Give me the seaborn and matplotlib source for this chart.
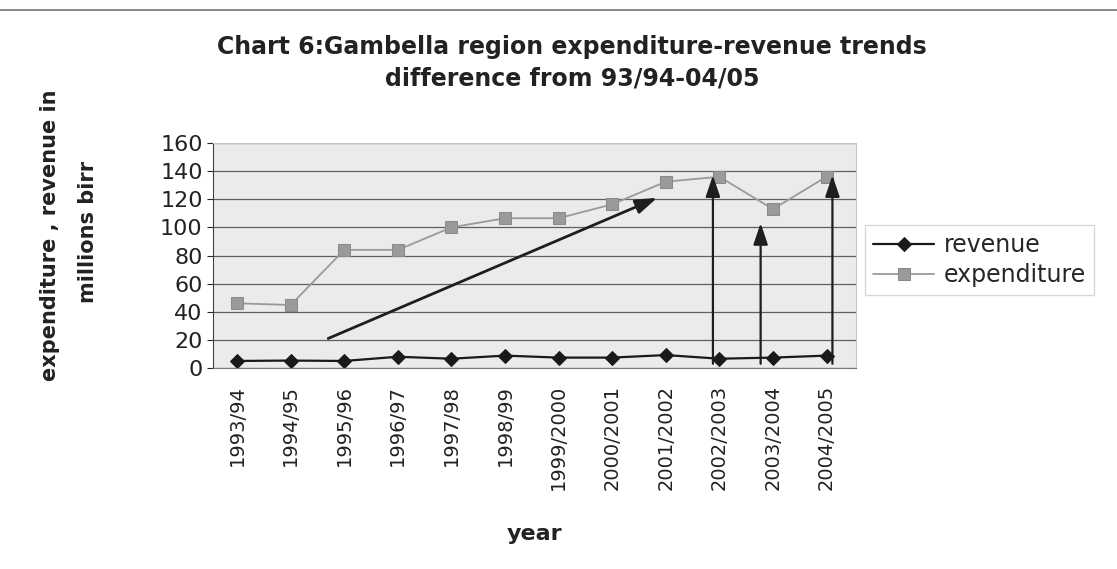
import matplotlib
matplotlib.use("Agg")
import matplotlib.pyplot as plt
import seaborn as sns
import pandas as pd
from matplotlib.lines import Line2D

# values (millions birr)
years = ['1993/94', '1994/95', '1995/96', '1996/97', '1997/98', '1998/99',
         '1999/2000', '2000/2001', '2001/2002', '2002/2003', '2003/2004', '2004/2005']
revenue = [5, 5.3, 5, 8, 6.6, 8.8, 7.4, 7.4, 9.2, 6.6, 7.4, 8.8]
expenditure = [46, 44.8, 84, 84, 100, 106.5, 106.5, 116.4, 132.5, 136, 113, 136]

# hand-drawn arrows on the original: (x_start, y_start, x_end, y_end, width) in category units
arrows = [(1.70, 21, 7.84, 121, 2.0),
          (8.88, 3, 8.88, 137, 1.6),
          (9.77, 3, 9.77, 103, 1.6),
          (11.11, 3, 11.11, 137, 1.6)]

df = pd.DataFrame({'year': years, 'revenue': revenue, 'expenditure': expenditure})
df['pos'] = range(len(df))

sns.set_style('white')
plt.rcParams['font.family'] = ['DejaVu Sans']
txt = '#222222'

fig = plt.figure(figsize=(11.17, 5.69), dpi=100)
ax = fig.add_axes([213 / 1117, 1 - 368 / 569, 643 / 1117, 225 / 569])
ax.set_facecolor('#ebebeb')

sns.lineplot(data=df, x='pos', y='expenditure', ax=ax, color='#9a9a9a', lw=1.3,
             marker='s', markersize=8, markeredgecolor='#8a8a8a', label='expenditure')
sns.lineplot(data=df, x='pos', y='revenue', ax=ax, color='#1a1a1a', lw=1.6,
             marker='D', markersize=7.5, markeredgecolor='#1a1a1a', label='revenue')

for x0, y0, x1, y1, w in arrows:
    ax.annotate('', xy=(x1, y1), xytext=(x0, y0),
                arrowprops=dict(arrowstyle='-|>,head_length=0.65,head_width=0.22',
                                mutation_scale=20, lw=w, color='#1e1e1e',
                                shrinkA=0, shrinkB=0))

ax.set_ylim(0, 160)
ax.set_xlim(-0.45, 11.55)
ax.set_yticks(range(0, 161, 20))
ax.set_xticks(df['pos'])
ax.set_xticklabels(years, rotation=90, fontsize=14, color=txt)
ax.tick_params(axis='y', labelsize=16, labelcolor=txt, length=4, direction='out', left=True)
ax.tick_params(axis='x', length=0, pad=12)
ax.yaxis.grid(True, color='#606060', lw=0.9)
ax.set_axisbelow(True)
for side in ['top', 'right']:
    ax.spines[side].set_color('#c4c4c4')
ax.spines['left'].set_color('#444')
ax.spines['bottom'].set_color('#777')

ax.set_xlabel('year', fontsize=16, fontweight='bold', color=txt)
ax.xaxis.set_label_coords(0.5, (368 - 524) / 225)
ax.set_ylabel('')
fig.text(50 / 1117, 1 - 235 / 569, 'expenditure , revenue in', rotation=90,
         ha='center', va='center', fontsize=15, fontweight='bold', color=txt)
fig.text(88 / 1117, 1 - 232 / 569, 'millions birr', rotation=90,
         ha='center', va='center', fontsize=15, fontweight='bold', color=txt)

fig.text(0.512, 1 - 47 / 569, 'Chart 6:Gambella region expenditure-revenue trends',
         ha='center', va='center', fontsize=17, fontweight='bold', color=txt)
fig.text(0.512, 1 - 78 / 569, 'difference from 93/94-04/05',
         ha='center', va='center', fontsize=17, fontweight='bold', color=txt)

h, l = ax.get_legend_handles_labels()
ax.get_legend().remove()
order = [l.index('revenue'), l.index('expenditure')]
fig.legend([h[i] for i in order], [l[i] for i in order], loc='center left',
           bbox_to_anchor=(853 / 1117, 1 - 260 / 569), fontsize=17, frameon=True,
           fancybox=False, edgecolor='#cfcfcf', handlelength=2.6, borderpad=0.35,
           labelspacing=0.25, handletextpad=0.4)

fig.add_artist(Line2D([0, 1], [1 - 10 / 569, 1 - 10 / 569], color='#777', lw=1.2))

fig.savefig('out.png', dpi=100, facecolor='white')
